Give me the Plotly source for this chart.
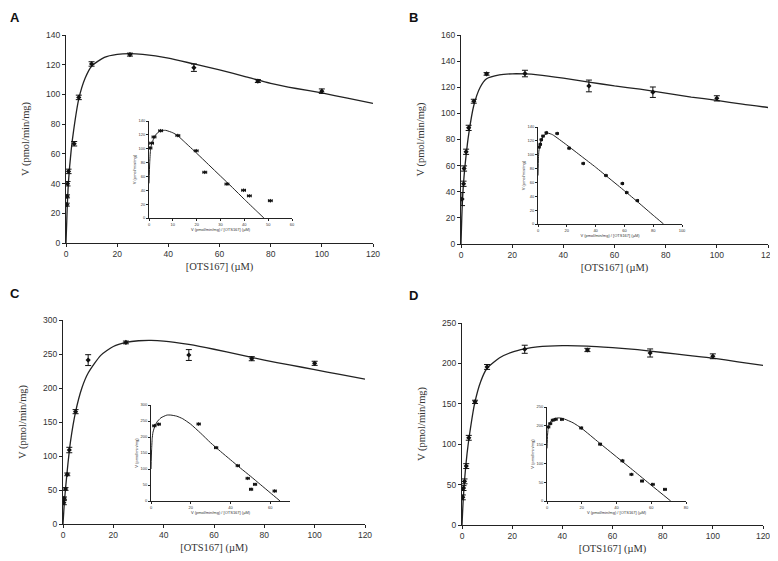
import plotly.graph_objects as go

# ---------------- data ----------------
panel_letters = ["A", "B", "C", "D"]

conc_A = [0.3, 0.4, 0.6, 1.0, 3.2, 5.0, 10, 25, 50, 75, 100]
v_A = [25.8, 31.4, 39.9, 48.2, 66.8, 98.0, 120.5, 126.8, 118.0, 109.0, 102.2]
err_A = [1, 1, 1.5, 1.5, 1.5, 1.5, 1.5, 1, 2.5, 1, 1.5]
fit_x_A = [0, 0.3, 0.5, 1, 2, 3, 5, 7.5, 10, 15, 20, 25, 30, 40, 50, 60, 70, 80, 90, 100, 110, 120]
fit_v_A = [0, 15, 25, 42, 62, 76, 97, 111, 119, 125, 127, 127.5, 127, 124.5, 120.5, 116.5, 112, 107.5, 104, 101, 97.5, 94]

conc_B = [0.4, 1.0, 1.2, 2.0, 3.0, 5.0, 10, 25, 50, 75, 100]
v_B = [34.4, 46.1, 57.8, 70.6, 88.9, 109.3, 130.2, 130.5, 121.0, 116.2, 111.5]
err_B = [5, 2, 2, 2, 2, 1.5, 1, 2.5, 4.5, 4, 2]
fit_x_B = [0, 0.3, 0.5, 1, 2, 3, 5, 7.5, 10, 15, 20, 25, 30, 40, 50, 60, 70, 80, 90, 100, 110, 120]
fit_v_B = [0, 20, 30, 47, 68, 84, 106, 120, 126.5, 129.5, 130.3, 130.2, 129.5, 127, 124, 121, 118.5, 115.5, 112.5, 110, 107, 104.5]

conc_C = [0.3, 0.4, 1.0, 1.7, 2.5, 5.0, 10, 25, 50, 75, 100]
v_C = [31.4, 37.7, 51.5, 73.0, 108.8, 165.2, 241.0, 267.0, 248.5, 243.1, 236.3]
err_C = [3, 2, 2, 2, 4, 3, 8, 2, 8, 3, 3]
fit_x_C = [0, 0.3, 0.5, 1, 2, 3, 5, 7.5, 10, 15, 20, 25, 30, 35, 40, 50, 60, 70, 80, 90, 100, 110, 120]
fit_v_C = [0, 18, 30, 52, 90, 122, 165, 200, 222, 248, 261, 267, 269.5, 270, 269, 264, 257, 249, 241, 234, 227, 220, 213]

conc_D = [0.3, 0.6, 1.0, 1.7, 2.7, 5.2, 10, 25, 50, 75, 100]
v_D = [34.2, 45.7, 54.0, 72.9, 107.9, 152.4, 195.6, 217.5, 216.6, 212.9, 208.8]
err_D = [3, 3, 3, 3, 3, 2, 3, 5, 2, 5, 3]
fit_x_D = [0, 0.3, 0.5, 1, 2, 3, 5, 7.5, 10, 15, 20, 25, 30, 40, 50, 60, 70, 80, 90, 100, 110, 120]
fit_v_D = [0, 20, 32, 55, 88, 112, 150, 178, 194, 207, 214, 218, 220.5, 222, 221.5, 219.5, 217, 213.5, 210, 206.5, 202, 197.5]

# insets: V vs V/[OTS167]
ins_x_A = [0.4, 1.1, 2.1, 4.9, 12.1, 19.8, 23.4, 32.7, 39.7, 42.1, 50.9]
ins_v_A = [101, 108, 117, 126, 119, 97, 66, 49, 40, 32, 25]
ins_fit_x_A = [0, 0.3, 0.6, 1, 2, 3, 5, 7, 10, 12, 15, 20, 25, 30, 35, 40, 45, 48.2]
ins_fit_v_A = [50, 80, 97, 105, 115, 121, 126, 126.5, 123, 119, 109.5, 93.5, 77, 60.5, 44, 27, 10.5, 0]

ins_x_B = [0.7, 1.6, 2.3, 3.5, 5.8, 13.3, 21.6, 31.4, 47.2, 58.6, 61.6, 69.0]
ins_v_B = [111, 115, 121.7, 126.9, 131.6, 130.6, 109.4, 87.4, 70, 58.4, 45.4, 33.8]
ins_fit_x_B = [0, 0.3, 0.6, 1, 2, 4, 7, 10, 20, 30, 40, 50, 60, 70, 80, 87.2]
ins_fit_v_B = [70, 95, 105, 110, 120, 127.5, 131, 129, 114, 98, 82, 65, 48, 30.5, 12.6, 0]

ins_x_C = [1.7, 3.9, 24.0, 32.8, 43.7, 48.7, 50.4, 52.4, 62.3]
ins_v_C = [235, 240, 240.6, 166.7, 110.4, 70.8, 36.5, 52, 31.2]
ins_fit_x_C = [0, 0.3, 0.6, 1, 2, 3, 5, 8, 10, 13, 16, 20, 25, 30, 35, 40, 45, 50, 55, 60, 65]
ins_fit_v_C = [100, 160, 195, 215, 235, 247, 260, 268.5, 268.5, 265, 257, 240, 212, 182, 155, 129, 103, 78, 52, 26, 0]

ins_x_D = [0.8, 1.9, 3.3, 5.0, 8.6, 19.7, 30.6, 43.4, 48.6, 54.7, 60.9, 67.9]
ins_v_D = [197, 205.8, 214.7, 217, 217, 194.3, 151, 106.9, 70.7, 53, 44.2, 30.9]
ins_fit_x_D = [0, 0.3, 0.6, 1, 2, 4, 7, 10, 15, 20, 30, 40, 50, 60, 71.2]
ins_fit_v_D = [140, 175, 190, 200, 211, 219, 221, 218, 208, 193, 155, 117.5, 80, 42, 0]

main_y_max = [140, 160, 300, 250]
main_y_dtick = [20, 20, 50, 50]
ins_x_max = [60, 100, 70, 80]
ins_x_dtick = [10, 20, 20, 20]
ins_y_max = [140, 140, 300, 250]
ins_y_dtick = [20, 20, 50, 50]

x_title = "[OTS167] (µM)"
y_title = "V (pmol/min/mg)"
ins_x_title = "V (pmol/min/mg) / [OTS167] (µM)"
ins_y_title = "V (pmol/min/mg)"

# ---------------- layout geometry (window pixels) ----------------
OFF = 8                      # page body margin: the figure starts at (8, 8) in the window
W, H = 778 - OFF, 561 - OFF
main_box = [(66, 373, 35, 243), (461, 768, 35, 244), (63, 365, 320, 524), (462, 763, 323, 525)]
ins_box = [(149, 292, 121, 218), (538, 682, 127, 224), (151, 290, 405, 501), (547, 686, 407, 501)]
letter_pos = [(15, 17), (414, 17), (15, 293), (413, 295)]

def dom_x(a, b):
    return [(a - OFF) / W, (b - OFF) / W]

def dom_y(t, bt):
    return [1 - (bt - OFF) / H, 1 - (t - OFF) / H]

main_data = [
    (conc_A, v_A, err_A, fit_x_A, fit_v_A),
    (conc_B, v_B, err_B, fit_x_B, fit_v_B),
    (conc_C, v_C, err_C, fit_x_C, fit_v_C),
    (conc_D, v_D, err_D, fit_x_D, fit_v_D),
]
ins_data = [
    (ins_x_A, ins_v_A, ins_fit_x_A, ins_fit_v_A),
    (ins_x_B, ins_v_B, ins_fit_x_B, ins_fit_v_B),
    (ins_x_C, ins_v_C, ins_fit_x_C, ins_fit_v_C),
    (ins_x_D, ins_v_D, ins_fit_x_D, ins_fit_v_D),
]

fig = go.Figure()
layout = dict(
    width=W, height=H, margin=dict(l=0, r=0, t=0, b=0, autoexpand=False),
    paper_bgcolor="white", plot_bgcolor="white", showlegend=False,
    annotations=[],
)

tick_font = dict(family="Liberation Sans, Arial", size=8.5, color="#333333")
title_font = dict(family="Liberation Serif, Times New Roman", size=10.5, color="#333333")
ins_tick_font = dict(family="Liberation Sans, Arial", size=4, color="#333333")
ins_title_font = dict(family="Liberation Sans, Arial", size=4, color="#333333")

for i in range(4):
    n_main = 2 * i + 1
    n_ins = 2 * i + 2
    xa_main, ya_main = f"x{n_main}", f"y{n_main}"
    xa_ins, ya_ins = f"x{n_ins}", f"y{n_ins}"

    cx, cv, ce, fx, fv = main_data[i]
    fig.add_trace(go.Scatter(x=fx, y=fv, mode="lines", xaxis=xa_main, yaxis=ya_main,
                             line=dict(color="#222222", width=1.3, shape="spline", smoothing=0.6),
                             hoverinfo="skip"))
    fig.add_trace(go.Scatter(x=cx, y=cv, mode="markers", xaxis=xa_main, yaxis=ya_main,
                             marker=dict(symbol="diamond", size=4, color="#111111"),
                             error_y=dict(type="data", array=ce, visible=True, color="#111111",
                                          thickness=1, width=3)))

    ix, iv, ifx, ifv = ins_data[i]
    fig.add_trace(go.Scatter(x=ifx, y=ifv, mode="lines", xaxis=xa_ins, yaxis=ya_ins,
                             line=dict(color="#222222", width=1, shape="spline", smoothing=0.5),
                             hoverinfo="skip"))
    fig.add_trace(go.Scatter(x=ix, y=iv, mode="markers", xaxis=xa_ins, yaxis=ya_ins,
                             marker=dict(symbol="diamond", size=3, color="#111111"),
                             error_x=dict(type="constant", value=0.8, visible=True, color="#111111",
                                          thickness=1, width=1.5)))

    common = dict(showline=True, linecolor="#222222", linewidth=1, ticks="outside",
                  tickcolor="#222222", showgrid=False, zeroline=False, automargin=False, tick0=0)

    l, r, t, b = main_box[i]
    main_x_key = "xaxis" if n_main == 1 else f"xaxis{n_main}"
    main_y_key = "yaxis" if n_main == 1 else f"yaxis{n_main}"
    layout[main_x_key] = dict(
        domain=dom_x(l, r), anchor=ya_main, range=[0, 120], dtick=20, ticklen=3,
        tickfont=tick_font, ticklabeloverflow="allow",
        title=dict(text=x_title, font=title_font, standoff=4), **common,
    )
    layout[main_y_key] = dict(
        domain=dom_y(t, b), anchor=xa_main, range=[0, main_y_max[i]], dtick=main_y_dtick[i], ticklen=3,
        tickfont=tick_font, title=dict(text=y_title, font=title_font, standoff=14), **common,
    )

    l, r, t, b = ins_box[i]
    layout[f"xaxis{n_ins}"] = dict(
        domain=dom_x(l, r), anchor=ya_ins, range=[0, ins_x_max[i]], dtick=ins_x_dtick[i], ticklen=2,
        tickfont=ins_tick_font, title=dict(text=ins_x_title, font=ins_title_font, standoff=2), **common,
    )
    layout[f"yaxis{n_ins}"] = dict(
        domain=dom_y(t, b), anchor=xa_ins, range=[0, ins_y_max[i]], dtick=ins_y_dtick[i], ticklen=2,
        tickfont=ins_tick_font, title=dict(text=ins_y_title, font=ins_title_font, standoff=2), **common,
    )

    lx, ly = letter_pos[i]
    layout["annotations"].append(dict(
        text=f"<b>{panel_letters[i]}</b>", x=(lx - OFF) / W, y=1 - (ly - OFF) / H,
        xref="paper", yref="paper", xanchor="center", yanchor="middle", showarrow=False,
        font=dict(family="Liberation Sans, Arial", size=13, color="#111111"),
    ))

fig.update_layout(**layout)
fig.write_html("out.html")
